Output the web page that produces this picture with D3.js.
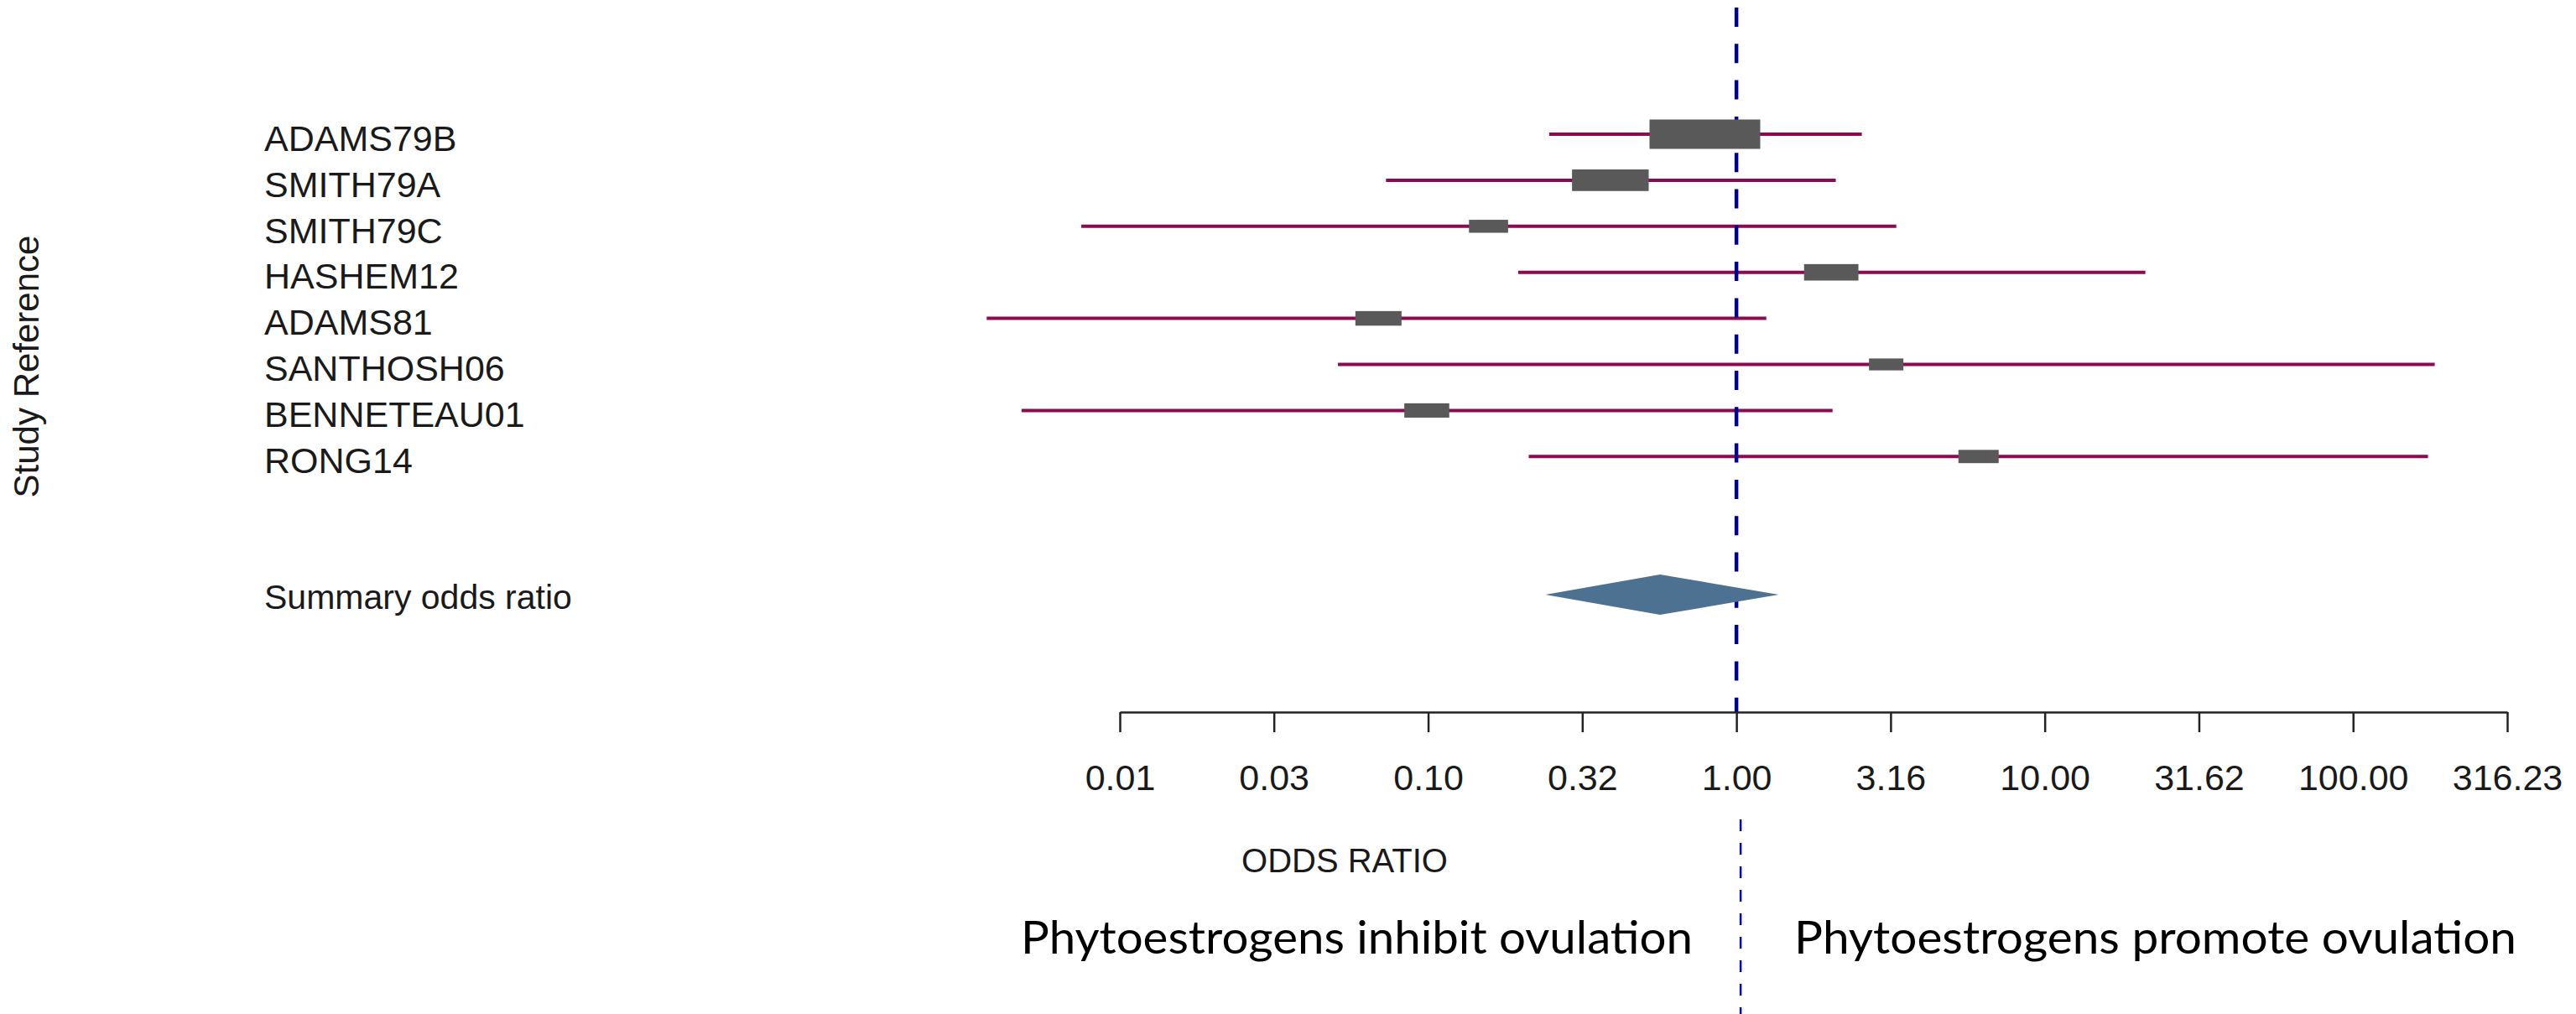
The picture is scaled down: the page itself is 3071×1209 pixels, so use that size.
<!DOCTYPE html>
<html>
<head>
<meta charset="utf-8">
<script src="https://cdn.jsdelivr.net/npm/d3@7"></script>
<style>
  html, body { margin: 0; padding: 0; background: #fff; }
  svg { display: block; }
</style>
</head>
<body>
<div id="chart"></div>
<script>
const studies = ['ADAMS79B', 'SMITH79A', 'SMITH79C', 'HASHEM12', 'ADAMS81', 'SANTHOSH06', 'BENNETEAU01', 'RONG14'];
const oddsRatio = [0.79, 0.39, 0.157, 2.03, 0.069, 3.06, 0.099, 6.1];
const lowerCI = [0.247, 0.073, 0.0075, 0.196, 0.0037, 0.051, 0.0048, 0.212];
const upperCI = [2.55, 2.1, 3.3, 21.2, 1.25, 184, 2.05, 175];
const boxWeight = [1.0, 0.71, 0.39, 0.52, 0.45, 0.35, 0.44, 0.40];

const summary = { label: 'Summary odds ratio', est: 0.565, lo: 0.24, hi: 1.37 };

const tickValues = [0.01, 0.0316, 0.1, 0.3162, 1, 3.1623, 10, 31.623, 100, 316.23];
const tickLabels = ['0.01', '0.03', '0.10', '0.32', '1.00', '3.16', '10.00', '31.62', '100.00', '316.23'];

const width = 3071;
const height = 1209;
const axisY = 849;

const svg = d3.select('#chart').append('svg')
  .attr('width', width)
  .attr('height', height);

const x = d3.scaleLog().domain([0.01, 316.23]).range([1335, 2989]);
// study rows sit on 0..7, the summary two rows further down
const y = d3.scaleLinear().domain([0, 10]).range([160, 709]);

const boxW = d3.scaleLinear().domain([0, 1]).range([-8, 132]);
const boxH = d3.scaleLinear().domain([0, 1]).range([3, 35]);

const rows = studies.map((name, i) => ({
  name, i, est: oddsRatio[i], lo: lowerCI[i], hi: upperCI[i], w: boxWeight[i]
}));

// confidence intervals
svg.append('g').selectAll('line')
  .data(rows)
  .join('line')
  .attr('x1', d => x(d.lo))
  .attr('x2', d => x(d.hi))
  .attr('y1', d => y(d.i))
  .attr('y2', d => y(d.i))
  .attr('stroke', '#8b0a50')
  .attr('stroke-width', 4);

// null line at OR = 1
svg.append('line')
  .attr('x1', x(1)).attr('x2', x(1))
  .attr('y1', 9).attr('y2', axisY)
  .attr('stroke', '#00008b')
  .attr('stroke-width', 4.5)
  .attr('stroke-dasharray', '23,20.3');

// study boxes
svg.append('g').selectAll('rect')
  .data(rows)
  .join('rect')
  .attr('x', d => x(d.est) - boxW(d.w) / 2)
  .attr('y', d => y(d.i) - boxH(d.w) / 2)
  .attr('width', d => boxW(d.w))
  .attr('height', d => boxH(d.w))
  .attr('fill', '#595959');

// summary diamond
const sy = y(10);
svg.append('path')
  .datum(summary)
  .attr('d', d => `M${x(d.lo)},${sy}L${x(d.est)},${sy - 24}L${x(d.hi)},${sy}L${x(d.est)},${sy + 24}Z`)
  .attr('fill', '#4d7191');

// row labels
const labels = svg.append('g')
  .attr('font-family', '"Liberation Sans", Arial, sans-serif')
  .attr('font-size', 43)
  .attr('fill', '#1a1a1a');

labels.selectAll('text.study')
  .data(rows)
  .join('text')
  .attr('class', 'study')
  .attr('x', 315)
  .attr('y', d => y(d.i))
  .attr('dy', '0.46em')
  .text(d => d.name);

labels.append('text')
  .attr('x', 315)
  .attr('y', sy)
  .attr('dy', '0.42em')
  .attr('font-size', 41)
  .text(summary.label);

svg.append('text')
  .attr('transform', 'translate(46,437) rotate(-90)')
  .attr('text-anchor', 'middle')
  .attr('font-family', '"Liberation Sans", Arial, sans-serif')
  .attr('font-size', 42)
  .attr('fill', '#1a1a1a')
  .text('Study Reference');

// log axis
const axis = d3.axisBottom(x)
  .tickValues(tickValues)
  .tickFormat((d, i) => tickLabels[i])
  .tickSize(24)
  .tickSizeOuter(0)
  .tickPadding(38);

const axisG = svg.append('g')
  .attr('transform', `translate(0,${axisY})`)
  .call(axis);

axisG.select('.domain').attr('stroke', '#222').attr('stroke-width', 2.5);
axisG.selectAll('.tick line').attr('stroke', '#222').attr('stroke-width', 2.5);
axisG.selectAll('.tick text')
  .attr('font-family', '"Liberation Sans", Arial, sans-serif')
  .attr('font-size', 43)
  .attr('fill', '#1a1a1a');

svg.append('text')
  .attr('x', 1603)
  .attr('y', 1040)
  .attr('text-anchor', 'middle')
  .attr('font-family', '"Liberation Sans", Arial, sans-serif')
  .attr('font-size', 40)
  .attr('fill', '#1a1a1a')
  .text('ODDS RATIO');

// annotations below the axis
svg.append('line')
  .attr('x1', x(1) + 5).attr('x2', x(1) + 5)
  .attr('y1', 977).attr('y2', height)
  .attr('stroke', '#0000b8')
  .attr('stroke-width', 2.5)
  .attr('stroke-dasharray', '14,14');

const notes = svg.append('g')
  .attr('font-family', 'Lato, "Open Sans", sans-serif')
  .attr('font-size', 54)
  .attr('fill', '#000');

notes.append('text')
  .attr('x', 1217)
  .attr('y', 1137)
  .attr('textLength', 801)
  .attr('lengthAdjust', 'spacingAndGlyphs')
  .text('Phytoestrogens inhibit ovulation');

notes.append('text')
  .attr('x', 2139)
  .attr('y', 1137)
  .attr('textLength', 861)
  .attr('lengthAdjust', 'spacingAndGlyphs')
  .text('Phytoestrogens promote ovulation');
</script>
</body>
</html>
